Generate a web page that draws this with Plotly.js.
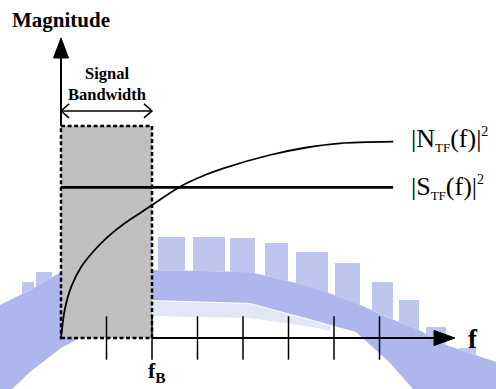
<!DOCTYPE html>
<html><head><meta charset="utf-8">
<script src="https://cdn.plot.ly/plotly-3.0.1.min.js"></script>
<style>html,body{margin:0;padding:0;background:#fff;}#chart{width:496px;height:389px;}</style>
</head><body><div id="chart"></div>
<script>
// ---------------- data ----------------
const fTicks = [1, 2, 3, 4, 5, 6, 7];          // tick marks along f (units of tick spacing)
const fB = 2;                                    // signal bandwidth edge
const noiseF   = [0, 0.081, 0.226, 0.446, 0.741, 1.033, 1.40, 1.765, 2.00, 2.615, 3.165, 3.567, 4.593, 5.40, 6.132, 7.303];
const noiseMag = [0, 0.933, 1.71, 2.377, 2.933, 3.377, 3.823, 4.193, 4.433, 5.043, 5.433, 5.657, 6.10, 6.35, 6.49, 6.543];
const signalF   = [0, 7.30];
const signalMag = [5.02, 5.02];
const bandTop = 7.07;        // height of the shaded signal band
const bwArrowY = 7.57;       // level of the "Signal Bandwidth" arrow
const axisXEnd = 8.66;
const axisYEnd = 10;
const yTitle = "<b>Magnitude</b>";
const xTitle = "<b>f</b>";
const fBLabel = "<b>f<sub>B</sub></b>";
const bwLabel = "<b>Signal</b><br><b>Bandwidth</b>";
const noiseLabel = "|N<sub><span style='font-size:13px'>TF</span></sub>(f)|<sup><span style='font-size:14px'>2</span></sup>";
const signalLabel = "|S<sub><span style='font-size:13px'>TF</span></sub>(f)|<sup><span style='font-size:14px'>2</span></sup>";

// ---------------- geometry / style ----------------
const W = 496, H = 389;
const ox = 61, oy = 338;          // pixel position of origin
const pxX = 45.5, pxY = 30;       // pixels per unit
const dx = p => p / pxX, dy = p => p / pxY;
const xr = [-ox / pxX, (W - ox) / pxX];
const yr = [-(H - oy) / pxY, oy / pxY];
const serif = "Liberation Serif";

// faint watermark (decorative, pixel outline)
const wmTop = [[0,305],[30,290],[61,272],[152,270],[250,272],[313,287],[356,303],[389,318],[419,330],[446,345],[496,362]];
const wmBottom = [[496,389],[413,389],[389,362],[356,332],[313,320],[250,303],[152,300],[61,348],[30,372],[12,389],[0,389]];
const wmStripe = [[152,301],[250,304],[313,321],[330,326],[330,331],[313,327],[250,318],[152,316]];
const wmTeeth = [[22,34,282],[36,52,272],[158,185,237],[193,225,237],[230,255,238],[265,288,243],[296,328,252],[335,360,263],[372,393,282],[399,419,300],[426,446,327],[459,476,348]];
const P = (x, y) => (x / W).toFixed(4) + "," + (1 - y / H).toFixed(4);
function topAt(x) {
  for (let i = 0; i < wmTop.length - 1; i++) {
    const [x0, y0] = wmTop[i], [x1, y1] = wmTop[i + 1];
    if (x >= x0 && x <= x1) return y0 + (y1 - y0) * (x - x0) / (x1 - x0);
  }
  return wmTop[wmTop.length - 1][1];
}
const wmBand = "#adb7ed", wmTooth = "#bec6f0", wmLight = "#e3e7f3";
const shapes = [];
shapes.push({type: "path", xref: "paper", yref: "paper", layer: "below",
  path: "M" + wmStripe.map(p => P(p[0], p[1])).join("L") + "Z",
  fillcolor: wmLight, line: {width: 0}});
shapes.push({type: "path", xref: "paper", yref: "paper", layer: "below",
  path: "M" + wmTop.concat(wmBottom).map(p => P(p[0], p[1])).join("L") + "Z",
  fillcolor: wmBand, line: {width: 0}});
wmTeeth.forEach(t => {
  const b1 = topAt(t[0]), b2 = topAt(t[1]);
  shapes.push({type: "path", xref: "paper", yref: "paper", layer: "below",
    path: "M" + [P(t[0], b1), P(t[0], t[2]), P(t[1], t[2]), P(t[1], b2)].join("L") + "Z",
    fillcolor: wmTooth, line: {width: 0}});
});
// signal band rectangle
shapes.push({type: "rect", xref: "x", yref: "y", layer: "below",
  x0: 0, x1: fB, y0: 0, y1: bandTop, fillcolor: "#c0c0c0",
  line: {color: "#000", width: 2.5, dash: "4px,2.5px"}});

const blk = "#000";
const traces = [
  // y axis
  {x: [0, 0], y: [bandTop, axisYEnd - dy(18)], mode: "lines", line: {color: blk, width: 2}},
  {x: [-dx(7.5), dx(7.5), 0, -dx(7.5)], y: [axisYEnd - dy(20), axisYEnd - dy(20), axisYEnd, axisYEnd - dy(20)],
   mode: "lines", fill: "toself", fillcolor: blk, line: {color: blk, width: 1}},
  // x axis
  {x: [fB, axisXEnd - dx(18)], y: [0, 0], mode: "lines", line: {color: blk, width: 2}},
  {x: [axisXEnd - dx(21), axisXEnd - dx(21), axisXEnd, axisXEnd - dx(21)], y: [dy(7.5), -dy(7.5), 0, dy(7.5)],
   mode: "lines", fill: "toself", fillcolor: blk, line: {color: blk, width: 1}},
  // tick marks
  {x: fTicks, y: fTicks.map(() => 0), mode: "markers",
   marker: {symbol: "line-ns-open", size: 31, color: blk, line: {color: blk, width: 1.5}}},
  // signal-bandwidth double arrow
  {x: [dx(8), 0, dx(8), null, 0, fB, null, fB - dx(8), fB, fB - dx(8)],
   y: [bwArrowY + dy(7), bwArrowY, bwArrowY - dy(7), null, bwArrowY, bwArrowY, null, bwArrowY + dy(7), bwArrowY, bwArrowY - dy(7)],
   mode: "lines", line: {color: blk, width: 1.5}},
  // |S_TF(f)|^2
  {x: signalF, y: signalMag, mode: "lines", line: {color: blk, width: 2.6}},
  // |N_TF(f)|^2
  {x: noiseF, y: noiseMag, mode: "lines", line: {color: blk, width: 1.8, shape: "spline", smoothing: 0.8}}
];

const annotations = [
  {x: 0, y: dy(oy - 20), text: yTitle, showarrow: false, xanchor: "center", yanchor: "middle",
   font: {family: serif, size: 21, color: blk}},
  {x: fB / 2, y: dy(oy - 84), text: bwLabel, showarrow: false, xanchor: "center", yanchor: "middle",
   font: {family: serif, size: 16.5, color: blk}},
  {x: axisXEnd + dx(11), y: dy(-1), text: xTitle, showarrow: false, xanchor: "left", yanchor: "middle",
   font: {family: serif, size: 27, color: blk}},
  {x: fB - dx(6), y: dy(oy - 372), text: fBLabel, showarrow: false, xanchor: "left", yanchor: "middle",
   font: {family: serif, size: 22, color: blk}},
  {x: noiseF[noiseF.length - 1] + dx(16), y: noiseMag[noiseMag.length - 1] + dy(2), text: noiseLabel, showarrow: false,
   xanchor: "left", yanchor: "middle", font: {family: serif, size: 26, color: blk}},
  {x: signalF[signalF.length - 1] + dx(16), y: signalMag[1], text: signalLabel, showarrow: false,
   xanchor: "left", yanchor: "middle", font: {family: serif, size: 26, color: blk}}
];

const layout = {
  width: W, height: H, margin: {l: 0, r: 0, t: 0, b: 0},
  paper_bgcolor: "#fff", plot_bgcolor: "rgba(0,0,0,0)", showlegend: false,
  xaxis: {range: xr, visible: false, fixedrange: true},
  yaxis: {range: yr, visible: false, fixedrange: true},
  shapes: shapes, annotations: annotations
};
Plotly.newPlot("chart", traces, layout, {staticPlot: true, displayModeBar: false});
</script></body></html>
